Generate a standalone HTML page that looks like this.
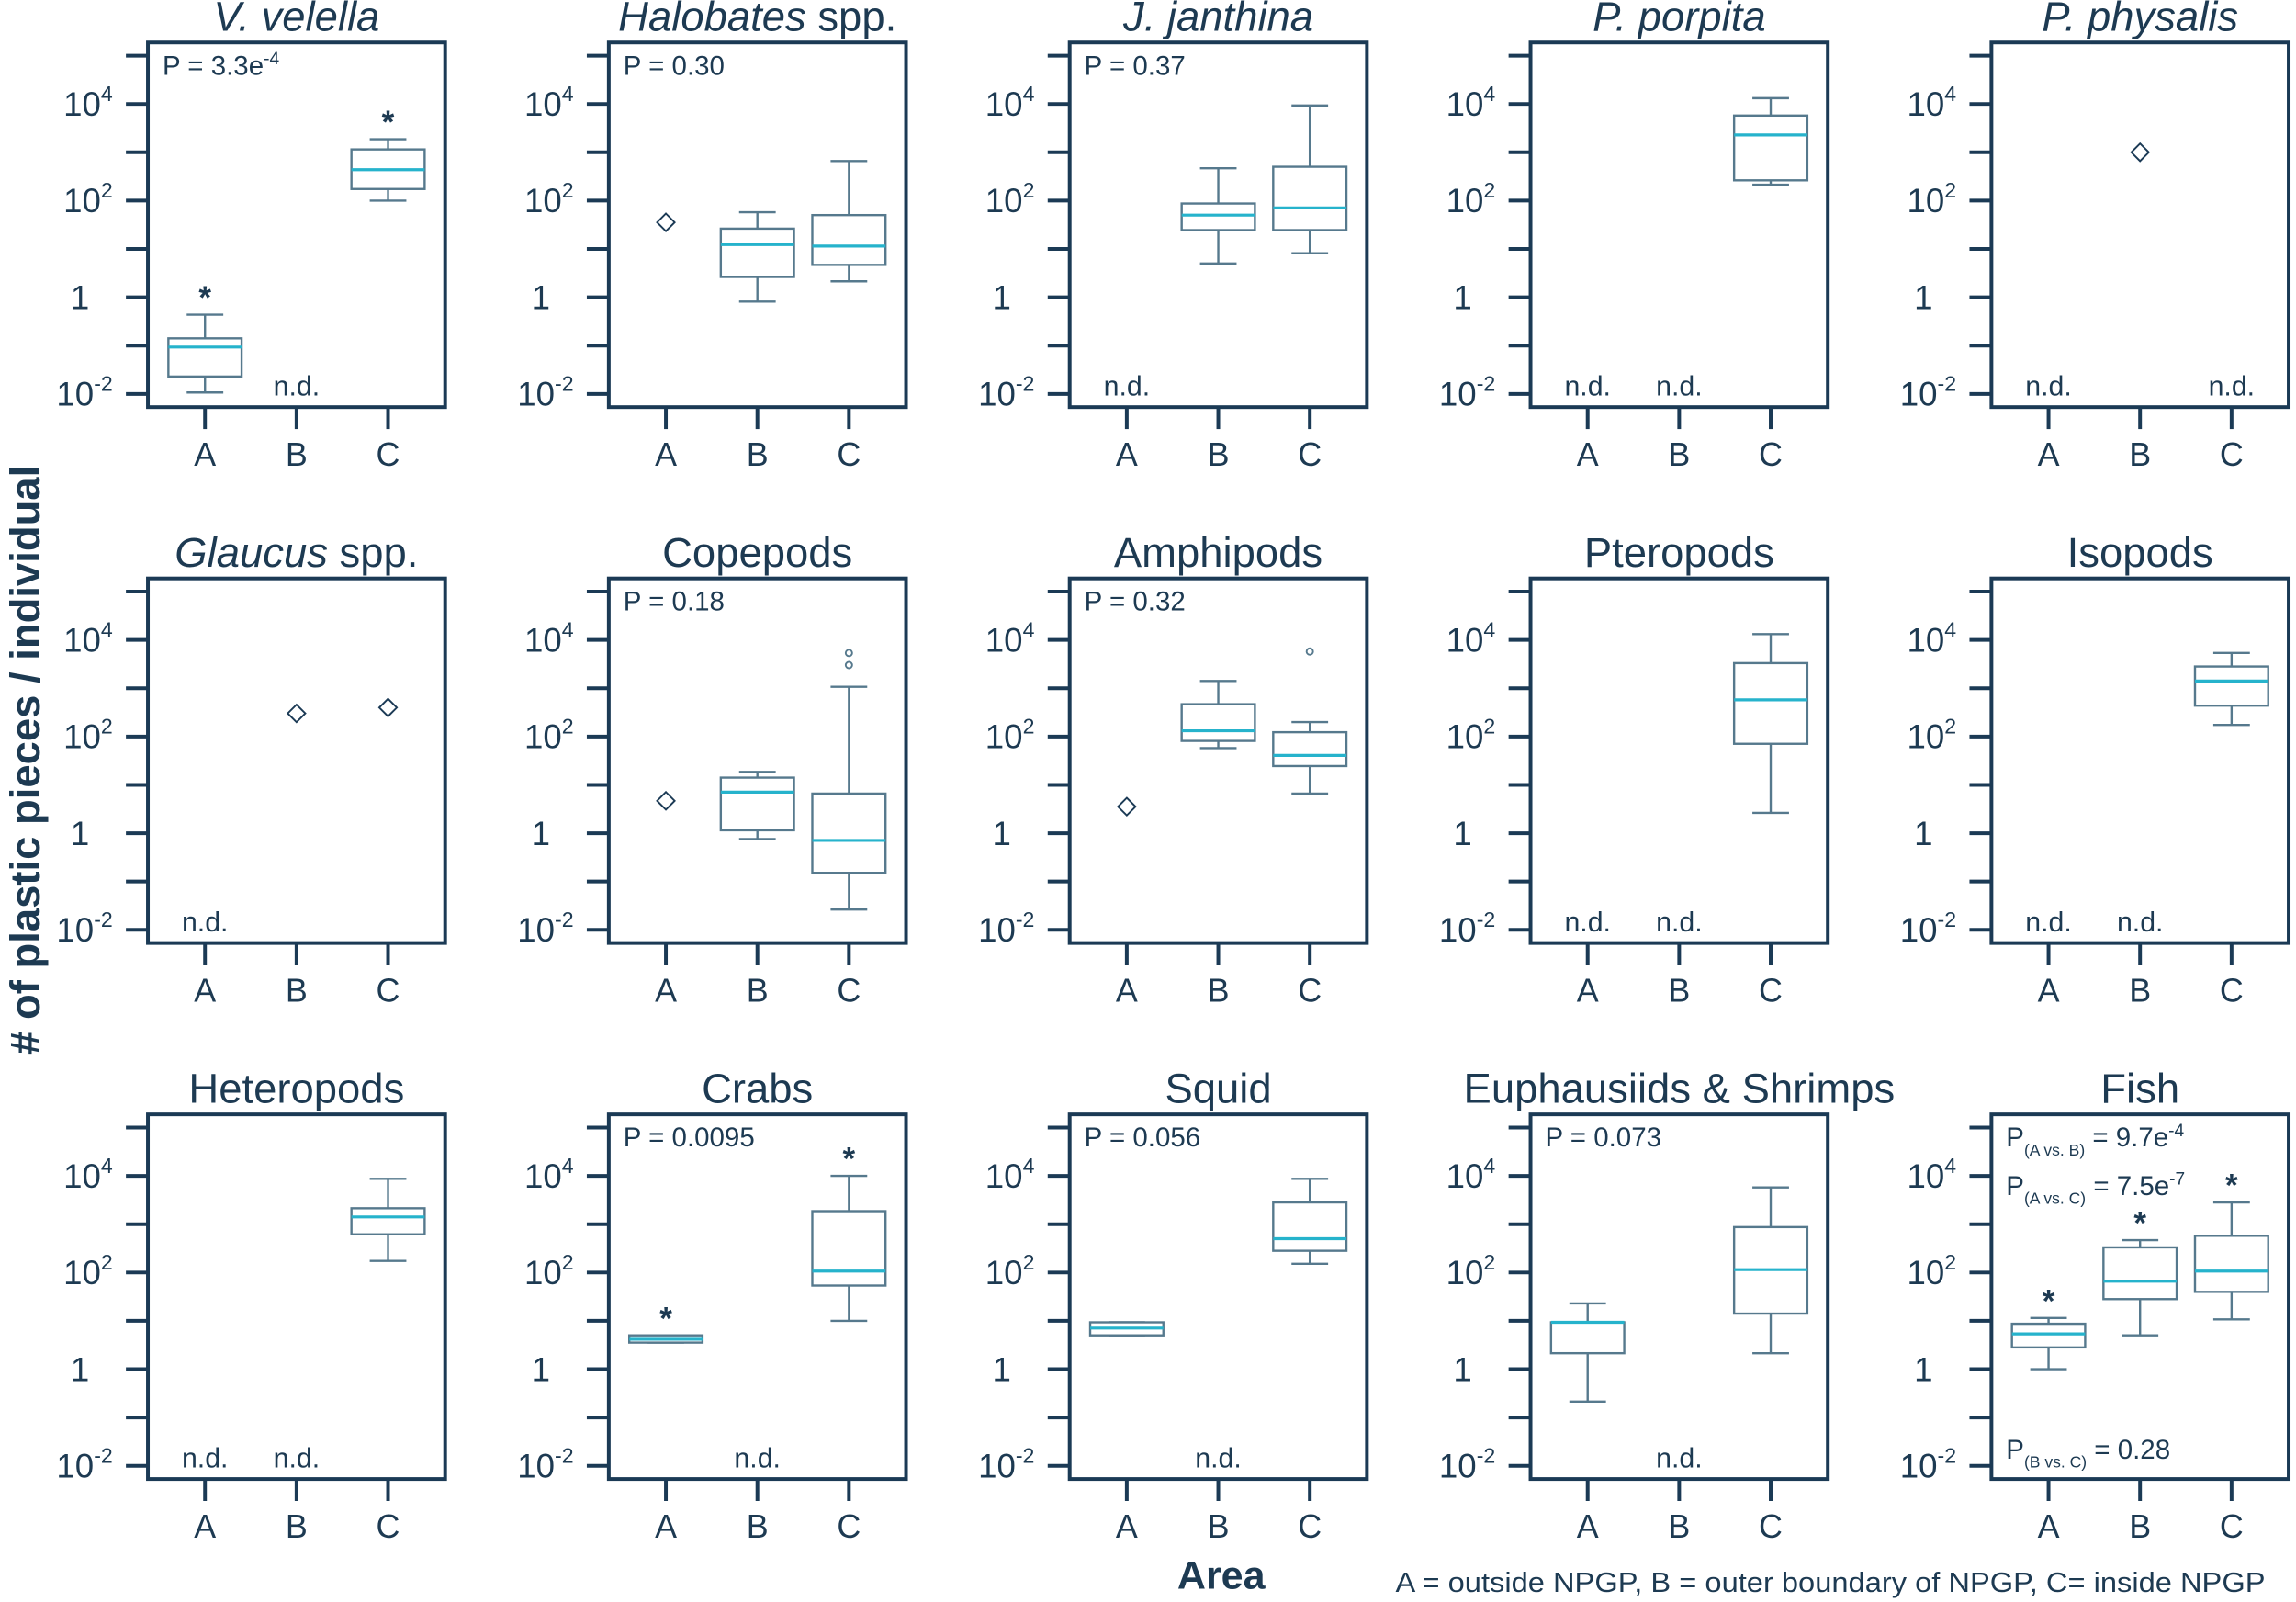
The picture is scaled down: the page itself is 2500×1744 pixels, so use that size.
<!DOCTYPE html>
<html><head><meta charset="utf-8">
<style>
html,body{margin:0;padding:0;background:#fff;}
svg{display:block;}
text{font-family:"Liberation Sans",sans-serif;fill:#1d3a52;}
</style></head>
<body>
<svg id="chart" width="2500" height="1744" viewBox="0 0 1568 1094" preserveAspectRatio="none" xmlns="http://www.w3.org/2000/svg">
<text x="0" y="0" transform="translate(27,519) rotate(-90)" text-anchor="middle" font-size="28.5" font-weight="bold">#  of plastic pieces / individual</text>
<text x="834" y="1085" text-anchor="middle" font-size="27" font-weight="bold">Area</text>
<text x="953" y="1087" font-size="19" textLength="594" lengthAdjust="spacingAndGlyphs">A = outside NPGP, B = outer boundary of NPGP, C= inside NPGP</text>
</svg>
<script>
// log10 values; each entry per category: null = n.d., number = single diamond, array = [min,q1,med,q3,max]
const panelTitles = ["V. velella","Halobates spp.","J. janthina","P. porpita","P. physalis","Glaucus spp.","Copepods","Amphipods","Pteropods","Isopods","Heteropods","Crabs","Squid","Euphausiids & Shrimps","Fish"];
const categories = ["A","B","C"];
const seriesA = [[-1.97,-1.64,-1.03,-0.85,-0.36],1.55,null,null,null,null,0.67,0.55,null,null,null,[0.55,0.55,0.62,0.7,0.7],[0.7,0.7,0.85,0.97,0.97],[-0.67,0.33,0.97,0.97,1.36],[0,0.45,0.73,0.94,1.06]];
const seriesB = [null,[-0.09,0.42,1.09,1.42,1.76],[0.7,1.39,1.7,1.94,2.67],null,3.0,2.48,[-0.12,0.06,0.85,1.15,1.27],[1.76,1.91,2.12,2.67,3.15],null,null,null,null,null,null,[0.7,1.45,1.82,2.52,2.67]];
const seriesC = [[2.0,2.24,2.64,3.06,3.27],[0.33,0.67,1.06,1.7,2.82],[0.91,1.39,1.85,2.7,3.97],[2.33,2.42,3.36,3.76,4.12],null,2.6,[-1.58,-0.82,-0.15,0.82,3.03],[0.82,1.39,1.61,2.09,2.3],[0.42,1.85,2.76,3.52,4.12],[2.24,2.64,3.15,3.45,3.73],[2.24,2.79,3.15,3.33,3.94],[1.0,1.73,2.03,3.27,4.0],[2.18,2.45,2.7,3.45,3.94],[0.33,1.15,2.06,2.94,3.76],[1.03,1.6,2.03,2.76,3.45]];
const outliersC = [[],[],[],[],[],[],[3.73,3.48],[3.76],[],[],[],[],[],[],[]];
const starsA = [true,false,false,false,false,false,false,false,false,false,false,true,false,false,true];
const starsB = [false,false,false,false,false,false,false,false,false,false,false,false,false,false,true];
const starsC = [true,false,false,false,false,false,false,false,false,false,false,true,false,false,true];
const pValues = ["3.3e|-4","0.30","0.37","","","","0.18","0.32","","","","0.0095","0.056","0.073",""];
const tickLabels = [[4,"10","4"],[2,"10","2"],[0,"1",""],[-2,"10","-2"]];

const svg = document.getElementById('chart');
const NS = "http://www.w3.org/2000/svg";
const FRAME="#1b3a55", BOXC="#56798d", MED="#26b3cc";
function mk(tag, attrs, parent){const e=document.createElementNS(NS,tag);for(const k in attrs)e.setAttribute(k,attrs[k]);(parent||svg).appendChild(e);return e;}
const series=[seriesA,seriesB,seriesC], stars=[starsA,starsB,starsC];

panelTitles.forEach((title,i)=>{
  const r=Math.floor(i/5), c=i%5;
  const L=101+c*314.75, T=29+r*366, W=203, H=249;
  const y=v=>T+174-33*v;
  const xc=k=>L+39+k*62.5;
  const g=mk('g',{});
  
  
  const tt=mk('text',{x:L+W/2,y:T-8,'text-anchor':'middle','font-size':28.5},g);
  
  
  const sp=title.indexOf(' spp.');
  if(i<6){ if(sp>=0){const a=mk('tspan',{'font-style':'italic'},tt);a.textContent=title.slice(0,sp);const b=mk('tspan',{},tt);b.textContent=' spp.';} else {tt.setAttribute('font-style','italic');tt.textContent=title;} }
  else tt.textContent=title;
  for(let v=-2;v<=5;v++){ const yy=y(v); if(yy<T||yy>T+H)continue;
    const tk=mk('line',{x1:L-15,x2:L,y1:yy,y2:yy,stroke:FRAME,'stroke-width':2.5},g);
    
    }
  tickLabels.forEach(t=>{const tl=mk('text',{x:L-26,y:y(t[0])+8,'text-anchor':'end','font-size':23},g);
    
    
    if(t[2]){tl.textContent=t[1];const s=mk('tspan',{dy:-10,'font-size':14.5},tl);s.textContent=t[2];tl.setAttribute('x',L-24);}else{tl.textContent=t[1];tl.setAttribute('x',L-40);}});
  const fr=mk('rect',{x:L,y:T,width:W,height:H,fill:'none',stroke:FRAME,'stroke-width':2.5},g);
  
  
  categories.forEach((cat,k)=>{
    const xt=mk('line',{x1:xc(k),x2:xc(k),y1:T+H,y2:T+H+15,stroke:FRAME,'stroke-width':2.5},g);
    
    
    const xl=mk('text',{x:xc(k),y:T+H+40,'text-anchor':'middle','font-size':22.5},g);
    
    
    xl.textContent=cat;
    const d=series[k][i], cx=xc(k);
    if(d===null){
      const nd=mk('text',{x:cx,y:T+241,'text-anchor':'middle','font-size':19},g);
      
      
      nd.textContent='n.d.';
    } else if(typeof d==='number'){
      const yy=y(d);
      const dm=mk('polygon',{points:`${cx},${yy-6} ${cx+6},${yy} ${cx},${yy+6} ${cx-6},${yy}`,fill:'#fff',stroke:FRAME,'stroke-width':1.2},g);
      
      
    } else {
      const bg=mk('g',{},g);
      
      
      const [mn,q1,md,q3,mx]=d.map(y);
      mk('line',{x1:cx,x2:cx,y1:mx,y2:q3,stroke:BOXC,'stroke-width':1.5},bg);
      mk('line',{x1:cx,x2:cx,y1:q1,y2:mn,stroke:BOXC,'stroke-width':1.5},bg);
      mk('line',{x1:cx-12.5,x2:cx+12.5,y1:mx,y2:mx,stroke:BOXC,'stroke-width':1.5},bg);
      mk('line',{x1:cx-12.5,x2:cx+12.5,y1:mn,y2:mn,stroke:BOXC,'stroke-width':1.5},bg);
      mk('rect',{x:cx-25,y:q3,width:50,height:Math.max(q1-q3,1),fill:'#fff',stroke:BOXC,'stroke-width':1.5},bg);
      mk('line',{x1:cx-25,x2:cx+25,y1:md,y2:md,stroke:MED,'stroke-width':2},bg);
      if(k===2) outliersC[i].forEach(o=>{const oc=mk('circle',{cx:cx,cy:y(o),r:2.2,fill:'none',stroke:BOXC,'stroke-width':1.2},g);
        
        });
      if(stars[k][i]){const st=mk('text',{x:cx,y:y(d[4])-4,'text-anchor':'middle','font-size':22,'font-weight':'bold'},g);
        
        
        st.textContent='*';}
    }
  });
  if(pValues[i]){
    const pt=mk('text',{x:L+10,y:T+22,'font-size':18.5},g);
    
    
    const parts=pValues[i].split('|');
    pt.textContent='P = '+parts[0];
    if(parts[1]){const s=mk('tspan',{dy:-7,'font-size':12},pt);s.textContent=parts[1];}
  }
  if(i===14){
    [[T+22,'(A vs. B)',' = 9.7e','-4'],[T+55,'(A vs. C)',' = 7.5e','-7'],[T+235,'(B vs. C)',' = 0.28','']].forEach(p=>{
      const pt=mk('text',{x:L+10,y:p[0],'font-size':18.5},g);
      
      
      pt.textContent='P';
      const s1=mk('tspan',{dy:6,'font-size':11},pt);s1.textContent=p[1];
      const s2=mk('tspan',{dy:-6},pt);s2.textContent=p[2];
      if(p[3]){const s3=mk('tspan',{dy:-7,'font-size':12},pt);s3.textContent=p[3];}
    });
  }
});
</script>
</body></html>
